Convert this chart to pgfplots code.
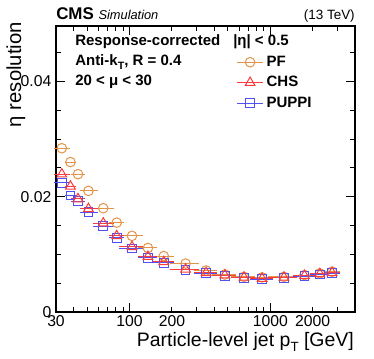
\documentclass[border=0pt]{standalone}
\usepackage{fontspec}
\setmainfont{Liberation Sans}
\usepackage{pgfplots}
\usepackage{pgfplotstable}
\pgfplotsset{compat=1.18}

\definecolor{pfc}{RGB}{228,148,72}
\definecolor{chsc}{RGB}{250,60,60}
\definecolor{pupc}{RGB}{80,80,245}

% eta resolution vs particle-level jet pT, |eta|<0.5, 20<mu<30
\pgfplotstableread{
pt   em  ep  pf     chs    puppi
33   3   3   0.0284 0.0239 0.0224
38   2   2   0.0260 0.0218 0.0202
43   3   3   0.0239 0.0196 0.0192
51   5   6   0.0210 0.0179 0.0173
65   8   9   0.0180 0.0154 0.0149
81   7   7   0.0155 0.0132 0.0129
104  16  16  0.0132 0.0113 0.0110
135  15  15  0.0111 0.0096 0.0094
175  25  25  0.0097 0.0087 0.0085
250  50  50  0.0084 0.0074 0.0073
350  50  50  0.0072 0.0068 0.0067
475  75  75  0.0065 0.0064 0.0063
650  100 100 0.0061 0.0060 0.0059
875  125 125 0.0060 0.0058 0.0057
1250 250 250 0.0061 0.0060 0.0059
1750 250 250 0.0064 0.0063 0.0062
2250 250 250 0.0067 0.0066 0.0065
2750 250 250 0.0070 0.0068 0.0067
}\jetres

\pgfplotsset{
  pfstyle/.style={color=pfc, mark=o, mark size=3.6pt, line width=0.75pt},
  chsstyle/.style={color=chsc, mark=triangle, mark size=4.2pt, line width=0.75pt},
  pupstyle/.style={color=pupc, mark=square, mark size=3.3pt, line width=0.75pt},
  bins/.style={only marks, forget plot,
    error bars/.cd, x dir=both, x explicit,
    error bar style={line width=0.75pt},
    error mark options={line width=0.75pt, mark size=1.8pt}},
}

\begin{document}
\begin{tikzpicture}
\useasboundingbox (-42pt,-35.25pt) rectangle (238.5pt,234pt);
\begin{axis}[
  scale only axis, clip=false,
  width=224.25pt, height=214.5pt,
  xmode=log,
  xmin=30, xmax=4000,
  ymin=0, ymax=0.0496,
  axis line style={line width=0.9pt},
  tick style={line width=0.75pt, black},
  tick align=inside, tick pos=both,
  major tick length=7pt, minor tick length=3.75pt,
  xtick={100,1000}, xticklabels={100,1000},
  extra x ticks={30,200,2000}, extra x tick labels={30,200,2000},
  extra x tick style={major tick length=3.75pt},
  minor xtick={40,50,60,70,80,90,200,300,400,500,600,700,800,900,2000,3000,4000},
  ytick={0,0.02,0.04}, yticklabels={0,0.02,0.04},
  minor ytick={0.005,0.01,0.015,0.025,0.03,0.035,0.045},
  scaled y ticks=false,
  tick label style={font=\fontsize{11.8}{12}\selectfont},
  xticklabel style={yshift=1pt},
  xlabel={Particle-level jet p\raisebox{-0.55ex}{\fontsize{10}{10}\selectfont T} [GeV]},
  xlabel style={at={(rel axis cs:0.997,-0.119)}, anchor=base east, inner sep=0pt,
    font=\fontsize{14.6}{16}\selectfont},
  ylabel={η resolution},
  ylabel style={at={(rel axis cs:-0.117,1.014)}, anchor=base east, inner sep=0pt,
    font=\fontsize{15.2}{16}\selectfont},
  legend style={at={(axis description cs:0.602,0.905)}, anchor=north west,
    draw=none, fill=none, inner sep=0pt, row sep=2pt,
    font=\bfseries\fontsize{11.25}{13}\selectfont},
  legend cell align=left,
  legend image code/.code={\draw[mark repeat=2,mark phase=2] plot coordinates {(0pt,0pt)(10pt,0pt)(20pt,0pt)};},
]
\addlegendimage{pfstyle}
\addlegendimage{chsstyle}
\addlegendimage{pupstyle}
\legend{PF,CHS,PUPPI}

\addplot[pfstyle, bins] table[x=pt, y=pf, x error minus=em, x error plus=ep] {\jetres};
\addplot[pupstyle, bins] table[x=pt, y=puppi, x error minus=em, x error plus=ep] {\jetres};
\addplot[chsstyle, bins] table[x=pt, y=chs, x error minus=em, x error plus=ep] {\jetres};

\node[anchor=base west, inner sep=0pt] at (rel axis cs:0,1) [yshift=4.5pt]
  {\bfseries\fontsize{12.7}{13}\selectfont CMS\ {\mdseries\itshape\fontsize{9.6}{11}\selectfont Simulation}};
\node[anchor=base east, inner sep=0pt, font=\fontsize{10.1}{11}\selectfont] at (rel axis cs:1,1) [yshift=4.5pt] {(13 TeV)};

\begin{scope}[font=\bfseries\fontsize{11.25}{13}\selectfont]
\node[anchor=west, inner sep=0pt] at (axis description cs:0.0635,0.945) {Response-corrected};
\node[anchor=west, inner sep=0pt] at (axis description cs:0.0635,0.875) {Anti-k\raisebox{-0.5ex}{\fontsize{8}{8}\selectfont T}, R = 0.4};
\node[anchor=west, inner sep=0pt] at (axis description cs:0.0635,0.805) {20 < μ < 30};
\node[anchor=west, inner sep=0pt] at (axis description cs:0.592,0.945) {|η| < 0.5};
\end{scope}
\end{axis}
\end{tikzpicture}
\end{document}
